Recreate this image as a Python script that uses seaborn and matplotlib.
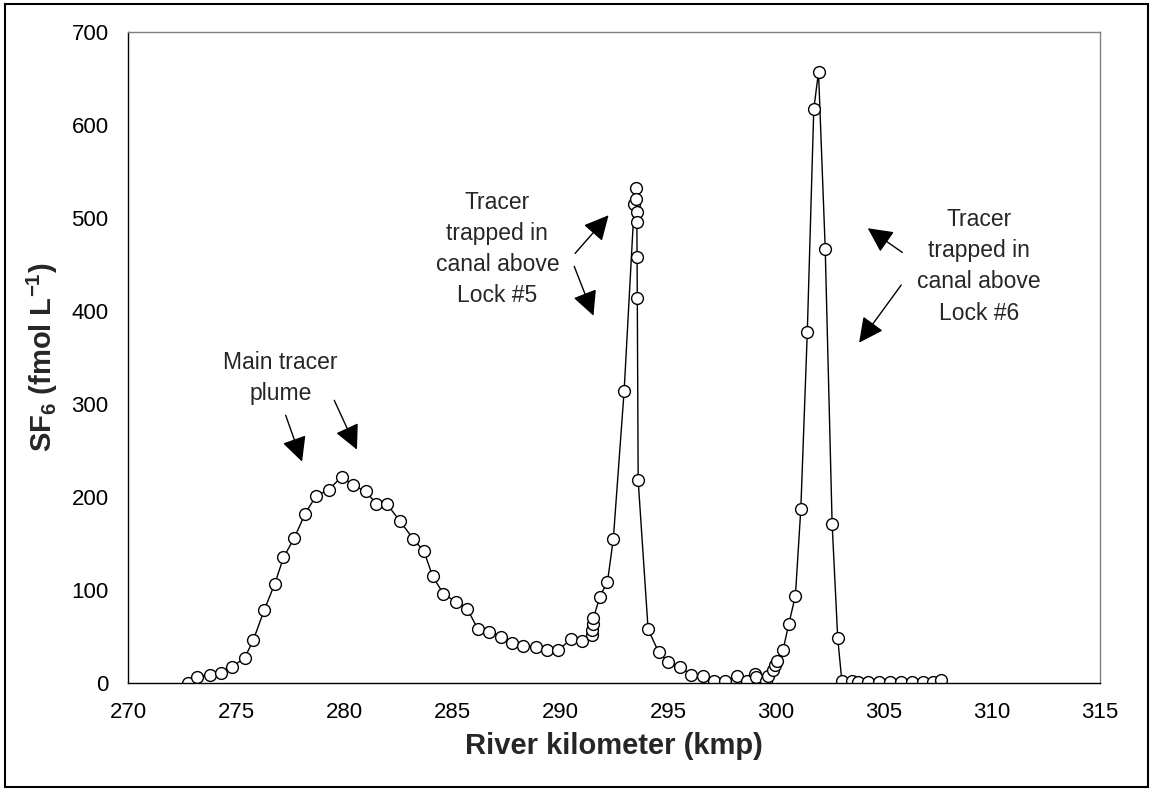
import matplotlib
matplotlib.use("Agg")
import matplotlib.pyplot as plt
import seaborn as sns
import pandas as pd
from matplotlib.patches import Rectangle

# ---- data ----
river_km = [272.76, 273.2, 273.8, 274.3, 274.8, 275.4, 275.8, 276.3, 276.8, 277.2,
            277.7, 278.2, 278.7, 279.3, 279.9, 280.4, 281.0, 281.5, 282.0, 282.6,
            283.2, 283.7, 284.1, 284.6, 285.2, 285.7, 286.2, 286.7, 287.25, 287.8,
            288.3, 288.9, 289.4, 289.9, 290.5, 291.0, 291.48, 291.5, 291.52, 291.55,
            291.85, 292.2, 292.47, 292.97, 293.44, 293.52, 293.54, 293.55, 293.56, 293.57,
            293.58, 293.62, 294.08, 294.57, 295.0, 295.55, 296.07, 296.62, 297.15, 297.63,
            298.2, 298.68, 299.05, 299.08, 299.55, 299.62, 299.84, 299.95, 300.03, 300.32,
            300.6, 300.9, 301.15, 301.45, 301.75, 301.97, 302.28, 302.6, 302.86, 303.05,
            303.5, 303.8, 304.27, 304.77, 305.3, 305.8, 306.3, 306.8, 307.26, 307.65]
sf6 = [0, 7, 9, 11, 17, 27, 46, 78, 107, 135,
       156, 182, 201, 208, 222, 213, 206, 193, 192, 174,
       155, 142, 115, 96, 87, 80, 58, 55, 50, 43,
       40, 39, 36, 35, 47, 45, 52, 57, 64, 70,
       93, 109, 155, 314, 515, 532, 521, 506, 496, 458,
       414, 218, 58, 33, 23, 17, 9, 8, 2, 2,
       8, 2, 10, 6, 2, 8, 14, 19, 24, 35,
       64, 94, 187, 377, 617, 657, 467, 171, 48, 2,
       2, 1, 1, 1, 1, 1, 1, 1, 1, 3]

x_ticks = [270, 275, 280, 285, 290, 295, 300, 305, 310, 315]
y_ticks = [0, 100, 200, 300, 400, 500, 600, 700]

label_main = "Main tracer\nplume"
label_lock5 = "Tracer\ntrapped in\ncanal above\nLock #5"
label_lock6 = "Tracer\ntrapped in\ncanal above\nLock #6"

df = pd.DataFrame({"km": river_km, "sf6": sf6})

sns.set_style("white")
plt.rcParams["font.family"] = ["Liberation Sans", "DejaVu Sans"]
plt.rcParams["mathtext.fontset"] = "custom"
plt.rcParams["mathtext.rm"] = "Liberation Sans"
plt.rcParams["mathtext.bf"] = "Liberation Sans:bold"
plt.rcParams["mathtext.default"] = "bf"

fig = plt.figure(figsize=(11.53, 7.91), dpi=100)
ax = fig.add_axes([0.111, 0.1365, 0.843, 0.823])

sns.lineplot(data=df, x="km", y="sf6", sort=False, estimator=None, ax=ax,
             color="black", linewidth=1.0, marker="o", markersize=8.5,
             markerfacecolor="white", markeredgecolor="black", markeredgewidth=1.0)

ax.set_xlim(270, 315)
ax.set_ylim(0, 700)
ax.set_xticks(x_ticks)
ax.set_yticks(y_ticks)
ax.tick_params(axis="both", direction="out", length=6, width=1, colors="black",
               labelsize=16)
ax.tick_params(axis="x", pad=8)
ax.tick_params(axis="y", pad=8)
for s in ["left", "bottom"]:
    ax.spines[s].set_color("black")
    ax.spines[s].set_linewidth(1.0)
for s in ["top", "right"]:
    ax.spines[s].set_color("#808080")
    ax.spines[s].set_linewidth(1.0)

ax.set_xlabel("River kilometer (kmp)", fontsize=21, fontweight="bold", labelpad=6)
ax.set_ylabel(r"SF$_6$ (fmol L$^{-1}$)", fontsize=21, fontweight="bold", labelpad=8)

arrow_kw = dict(arrowstyle="-|>,head_length=0.9,head_width=0.45", color="black",
                lw=1.0, mutation_scale=17, shrinkA=0, shrinkB=0)

ax.text(277.06, 328, label_main, ha="center", va="center", fontsize=16.5, linespacing=1.45)
ax.annotate("", xy=(278.06, 238), xytext=(277.3, 288), arrowprops=arrow_kw)
ax.annotate("", xy=(280.6, 251), xytext=(279.55, 304), arrowprops=arrow_kw)

ax.text(287.1, 467, label_lock5, ha="center", va="center", fontsize=16.5, linespacing=1.45)
ax.annotate("", xy=(292.25, 503), xytext=(290.7, 462), arrowprops=arrow_kw)
ax.annotate("", xy=(291.55, 395), xytext=(290.66, 448), arrowprops=arrow_kw)

ax.text(309.4, 448, label_lock6, ha="center", va="center", fontsize=16.5, linespacing=1.45)
ax.annotate("", xy=(304.25, 489), xytext=(305.85, 463), arrowprops=arrow_kw)
ax.annotate("", xy=(303.85, 366), xytext=(305.8, 428), arrowprops=arrow_kw)

fig.patches.append(Rectangle((0.004, 0.005), 0.992, 0.99, transform=fig.transFigure,
                             fill=False, edgecolor="black", linewidth=1.5))

fig.savefig("out.png", dpi=100)
